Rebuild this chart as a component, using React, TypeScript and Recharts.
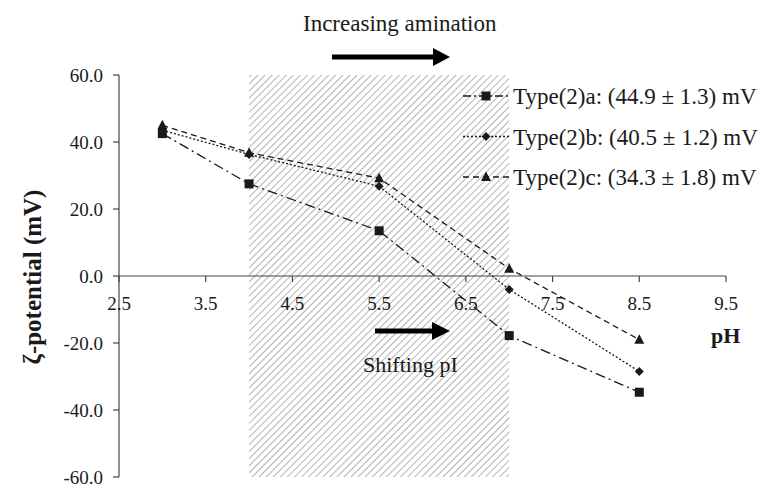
import React from "react";
import {
  LineChart,
  Line,
  XAxis,
  YAxis,
  ReferenceArea,
  ReferenceLine,
  ReferenceDot,
} from "recharts";

const phValues = [3, 4, 5.5, 7, 8.5];
const typeA = [42.5, 27.5, 13.5, -17.8, -34.7];
const typeB = [43.5, 36.3, 26.8, -4, -28.5];
const typeC = [45, 36.8, 29.2, 2.2, -19];
const xTicks = [2.5, 3.5, 4.5, 5.5, 6.5, 7.5, 8.5, 9.5];
const yTicks = [-60, -40, -20, 0, 20, 40, 60];
const legendLabels = [
  "Type(2)a: (44.9 ± 1.3) mV",
  "Type(2)b: (40.5 ± 1.2) mV",
  "Type(2)c: (34.3 ± 1.8) mV",
];

const data = phValues.map((ph, i) => ({
  ph,
  a: typeA[i],
  b: typeB[i],
  c: typeC[i],
}));

const FONT = "Liberation Serif, Times New Roman, DejaVu Serif, serif";
const INK = "#1a1a1a";
const AXIS = "#444";

type Shape = "square" | "diamond" | "triangle";

function marker(shape: Shape, cx: number, cy: number, key?: React.Key) {
  if (shape === "square") {
    return <rect key={key} x={cx - 4.5} y={cy - 4.5} width={9} height={9} fill={INK} />;
  }
  if (shape === "diamond") {
    return (
      <polygon
        key={key}
        points={`${cx},${cy - 4.5} ${cx + 4.5},${cy} ${cx},${cy + 4.5} ${cx - 4.5},${cy}`}
        fill={INK}
      />
    );
  }
  return (
    <polygon
      key={key}
      points={`${cx},${cy - 5.5} ${cx + 5},${cy + 4} ${cx - 5},${cy + 4}`}
      fill={INK}
    />
  );
}

const series: { key: "a" | "b" | "c"; dash: string; shape: Shape }[] = [
  { key: "a", dash: "10 4 2 4", shape: "square" },
  { key: "b", dash: "2 2", shape: "diamond" },
  { key: "c", dash: "6 4", shape: "triangle" },
];

const XTick = (props: any) => {
  const { cx, cy, payload } = props;
  return (
    <g>
      <line x1={cx} y1={cy} x2={cx} y2={cy + 6} stroke={AXIS} strokeWidth={1.2} />
      <text
        x={cx}
        y={cy + 34}
        textAnchor="middle"
        fontFamily={FONT}
        fontSize={19}
        fill={INK}
      >
        {payload}
      </text>
    </g>
  );
};

export default function App() {
  return (
    <div style={{ position: "absolute", left: 0, top: 0, width: 765, height: 489, background: "#fff" }}>
      <LineChart
        width={765}
        height={489}
        data={data}
        margin={{ top: 75, right: 39, bottom: 12, left: 0 }}
      >
        <defs>
          <pattern
            id="hatch"
            width={5}
            height={5}
            patternUnits="userSpaceOnUse"
            patternTransform="rotate(45)"
          >
            <line x1={0} y1={0} x2={0} y2={5} stroke="#b3b3b3" strokeWidth={2} />
          </pattern>
        </defs>
        <XAxis dataKey="ph" type="number" domain={[2.5, 9.5]} ticks={xTicks} hide />
        <YAxis
          type="number"
          domain={[-60, 60]}
          ticks={yTicks}
          interval={0}
          width={119}
          tickFormatter={(v: number) => v.toFixed(1)}
          axisLine={{ stroke: AXIS, strokeWidth: 1.2 }}
          tickLine={{ stroke: AXIS, strokeWidth: 1.2 }}
          tickSize={6}
          tickMargin={10}
          tick={{ fontFamily: FONT, fontSize: 19, fill: INK }}
        />
        <ReferenceArea x1={4} x2={7} fill="url(#hatch)" fillOpacity={1} stroke="none" />
        <ReferenceLine y={0} stroke={AXIS} strokeWidth={1.2} />
        {xTicks.map((t) => (
          <ReferenceDot
            key={t}
            x={t}
            y={0}
            r={0}
            ifOverflow="visible"
            shape={(p: any) => <XTick {...p} payload={t} />}
          />
        ))}
        {series.map((s) => (
          <Line
            key={s.key}
            dataKey={s.key}
            type="linear"
            stroke={INK}
            strokeWidth={1.3}
            strokeDasharray={s.dash}
            isAnimationActive={false}
            dot={(p: any) => marker(s.shape, p.cx, p.cy, `${s.key}-${p.index}`)}
            activeDot={false}
          />
        ))}
      </LineChart>
      <svg
        width={765}
        height={489}
        style={{ position: "absolute", left: 0, top: 0, pointerEvents: "none" }}
      >
        <text
          transform="translate(32,277) rotate(-90)"
          textAnchor="middle"
          dominantBaseline="central"
          fontFamily={FONT}
          fontWeight="bold"
          fontSize={25}
          fill={INK}
        >
          ζ-potential (mV)
        </text>
        <text x={711} y={343} fontFamily={FONT} fontWeight="bold" fontSize={22} fill={INK}>
          pH
        </text>
        <text x={303} y={31} fontFamily={FONT} fontSize={23} fill={INK}>
          Increasing amination
        </text>
        <line x1={332} y1={57} x2={436} y2={57} stroke="#000" strokeWidth={5} />
        <polygon points="433,48 450,57 433,66" fill="#000" />
        <line x1={375} y1={331} x2={435} y2={331} stroke="#000" strokeWidth={5} />
        <polygon points="432,322 450,331 432,340" fill="#000" />
        <text x={363} y={372} fontFamily={FONT} fontSize={22} fill={INK}>
          Shifting pI
        </text>
        {series.map((s, i) => {
          const cy = 96 + i * 40.5;
          return (
            <g key={s.key}>
              <line
                x1={463}
                y1={cy}
                x2={510}
                y2={cy}
                stroke={INK}
                strokeWidth={1.3}
                strokeDasharray={s.dash === "10 4 2 4" ? "8 3 2 3" : s.dash}
              />
              {marker(s.shape, 486, cy)}
              <text x={513} y={cy + 8} fontFamily={FONT} fontSize={23} fill={INK}>
                {legendLabels[i]}
              </text>
            </g>
          );
        })}
      </svg>
    </div>
  );
}
